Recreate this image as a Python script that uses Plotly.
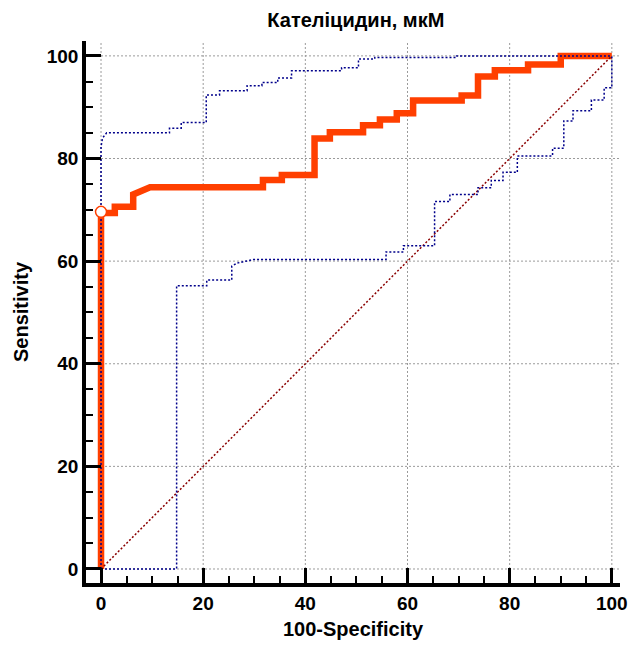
import plotly.graph_objects as go

# ROC curve vertices (100-Specificity, Sensitivity), %
roc_fpr = [0, 0, 2.7, 2.7, 6.3, 6.3, 9.6, 31.7, 31.7, 35.4, 35.4, 41.8, 41.8, 44.8, 44.8,
           51.3, 51.3, 54.6, 54.6, 57.9, 57.9, 61.1, 61.1, 70.6, 70.6, 73.8, 73.8, 77.1, 77.1,
           83.6, 83.6, 90.0, 90.0, 100]
roc_sens = [0, 69.4, 69.4, 70.6, 70.6, 73.0, 74.4, 74.4, 75.8, 75.8, 76.8, 76.8, 83.9, 83.9, 85.1,
            85.1, 86.5, 86.5, 87.6, 87.6, 88.8, 88.8, 91.3, 91.3, 92.3, 92.3, 96.0, 96.0, 97.2,
            97.2, 98.3, 98.3, 100, 100]

# Upper 95% confidence bound
upper_fpr = [0, 0, 0.3, 1.1, 13.4, 13.4, 15.7, 15.7, 20.6, 20.6, 23.2, 23.2, 28.6, 28.6, 31.5,
             31.5, 34.6, 34.6, 37.3, 37.3, 47.1, 47.1, 50.4, 50.4, 53.6, 53.6, 69.6, 69.6, 100]
upper_sens = [0, 82.3, 84.0, 85.0, 85.0, 85.9, 85.9, 87.0, 87.0, 92.4, 92.4, 93.2, 93.2, 94.2, 94.2,
              94.8, 94.8, 95.7, 95.7, 97.1, 97.1, 97.7, 97.7, 99.4, 99.4, 99.7, 99.7, 100, 100]

# Lower 95% confidence bound
lower_fpr = [0, 14.8, 14.8, 20.7, 20.7, 25.6, 25.6, 26.6, 29.8, 55.8, 55.8, 59.2, 59.2, 65.3, 65.3,
             68.3, 68.3, 73.8, 73.8, 76.4, 76.4, 78.7, 78.7, 81.5, 81.5, 88.4, 88.4, 90.6, 90.6,
             92.4, 92.4, 96.0, 96.0, 98.5, 98.5, 100, 100]
lower_sens = [0, 0, 55.2, 55.2, 56.3, 56.3, 59.0, 59.6, 60.3, 60.3, 61.8, 61.8, 63.0, 63.0, 71.6,
              71.6, 73.0, 73.0, 74.3, 74.3, 75.7, 75.7, 77.3, 77.3, 80.5, 80.5, 82.0, 82.0, 87.3,
              87.3, 89.3, 89.3, 91.4, 91.4, 93.8, 93.8, 100]

# Reference line and optimal cut-off point
diag_x = [0, 100]
diag_y = [0, 100]
cut_fpr = [0]
cut_sens = [69.6]

tick_vals = [0, 20, 40, 60, 80, 100]
x_range = [-2.94, 101.6]
y_range = [-2.73, 102.9]

RED = "#FF3F00"
BLUE = "#00008B"
FONT = "Liberation Sans, Arial, sans-serif"

fig = go.Figure()

fig.add_trace(go.Scatter(x=roc_fpr, y=roc_sens, mode="lines",
                         line=dict(color=RED, width=6.5), hoverinfo="skip"))
fig.add_trace(go.Scatter(x=diag_x, y=diag_y, mode="lines",
                         line=dict(color="#8B0000", width=1.5, dash="2px,2px"), hoverinfo="skip"))
fig.add_trace(go.Scatter(x=upper_fpr, y=upper_sens, mode="lines",
                         line=dict(color=BLUE, width=1.5, dash="2px,2px"), hoverinfo="skip"))
fig.add_trace(go.Scatter(x=lower_fpr, y=lower_sens, mode="lines",
                         line=dict(color=BLUE, width=1.5, dash="2px,2px"), hoverinfo="skip"))
fig.add_trace(go.Scatter(x=cut_fpr, y=cut_sens, mode="markers",
                         marker=dict(size=11, color="white", line=dict(color=RED, width=1.5)),
                         hoverinfo="skip"))

# Dotted grid limited to the data region
shapes = []
for v in tick_vals:
    shapes.append(dict(type="line", xref="x", yref="y", x0=v, x1=v, y0=0, y1=y_range[1],
                       line=dict(color="#9A9A9A", width=1, dash="2px,2px"), layer="below"))
    shapes.append(dict(type="line", xref="x", yref="y", x0=0, x1=x_range[1], y0=v, y1=v,
                       line=dict(color="#9A9A9A", width=1, dash="2px,2px"), layer="below"))

axis_common = dict(
    showline=True, linecolor="black", linewidth=3.5,
    ticks="inside", ticklen=15, tickwidth=3, tickcolor="black",
    tickvals=tick_vals,
    minor=dict(ticks="inside", ticklen=7, tickwidth=2, tickcolor="black", dtick=5, showgrid=False),
    showgrid=False, zeroline=False, automargin=False,
    tickfont=dict(family=FONT, size=19, color="black", weight="bold"),
)

fig.update_layout(
    width=640, height=646,
    margin=dict(l=86, r=20, t=41, b=63),
    paper_bgcolor="white", plot_bgcolor="white",
    showlegend=False,
    shapes=shapes,
    title=dict(text="Кателіцидин, мкМ", x=0.556, xanchor="center", y=1 - 20 / 646,
               yanchor="middle", font=dict(family=FONT, size=20, color="black", weight="bold")),
    xaxis=dict(range=x_range, title=dict(text="100-Specificity", standoff=10,
               font=dict(family=FONT, size=20, color="black", weight="bold")), **axis_common),
    yaxis=dict(range=y_range, title=dict(text="Sensitivity", standoff=14,
               font=dict(family=FONT, size=20, color="black", weight="bold")), **axis_common),
)

fig.write_html("out.html")
